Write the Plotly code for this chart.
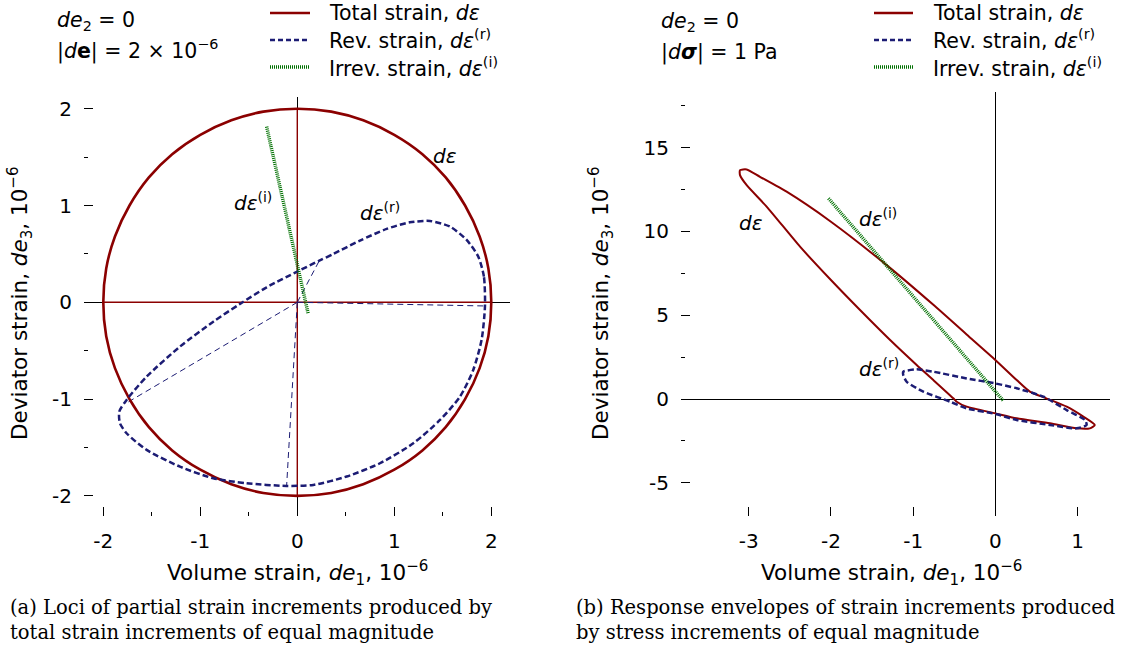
import plotly.graph_objects as go

W, H = 1125, 651

# ---------------- panel (a): loci for equal total-strain increments ----------------
total_a_x = [2.00, 1.97, 1.88, 1.73, 1.53, 1.29, 1.00, 0.68, 0.35, 0.00, -0.35, -0.68,
             -1.00, -1.29, -1.53, -1.73, -1.88, -1.97, -2.00, -1.97, -1.88, -1.73, -1.53,
             -1.29, -1.00, -0.68, -0.35, 0.00, 0.35, 0.68, 1.00, 1.29, 1.53, 1.73, 1.88,
             1.97, 2.00]
total_a_y = [0.00, 0.35, 0.68, 1.00, 1.29, 1.53, 1.73, 1.88, 1.97, 2.00, 1.97, 1.88,
             1.73, 1.53, 1.29, 1.00, 0.68, 0.35, 0.00, -0.35, -0.68, -1.00, -1.29,
             -1.53, -1.73, -1.88, -1.97, -2.00, -1.97, -1.88, -1.73, -1.53, -1.29, -1.00,
             -0.68, -0.35, 0.00]

# total-strain increments along the coordinate directions
total_axes_a_x = [-2.0, 2.0, None, 0.0, 0.0]
total_axes_a_y = [0.0, 0.0, None, -2.0, 2.0]

rev_a_x = [1.935, 1.924, 1.866, 1.746, 1.574, 1.368, 1.160, 0.921, 0.646, 0.371, 0.227,
           0.000, -0.316, -0.591, -0.866, -1.210, -1.553, -1.760, -1.835, -1.828, -1.760,
           -1.553, -1.210, -0.866, -0.522, -0.110, 0.165, 0.509, 0.852, 1.196, 1.471,
           1.677, 1.814, 1.900, 1.935]
rev_a_y = [-0.038, 0.265, 0.472, 0.644, 0.782, 0.840, 0.826, 0.758, 0.637, 0.499, 0.430,
           0.317, 0.155, -0.017, -0.200, -0.458, -0.768, -1.009, -1.129, -1.250, -1.353,
           -1.525, -1.698, -1.818, -1.870, -1.897, -1.887, -1.800, -1.663, -1.457, -1.216,
           -0.975, -0.699, -0.389, -0.038]

# reversible parts of the four axis-aligned total increments
rev_rays_a_x = [0.0, 1.935, None, 0.0, -0.110, None, 0.0, -1.760, None, 0.0, 0.227]
rev_rays_a_y = [0.0, -0.038, None, 0.0, -1.897, None, 0.0, -1.040, None, 0.0, 0.430]

irr_a_x = [-0.316, 0.113]
irr_a_y = [1.814, -0.121]

ticks_a = [-2, -1, 0, 1, 2]
ticks_a_text = ["-2", "-1", "0", "1", "2"]

# ---------------- panel (b): response envelopes for equal stress increments ----------------
total_b_x = [-3.106, -3.025, -2.863, -2.539, -2.000, -1.322, -0.754, -0.349, 0.000,
             0.260, 0.420, 0.620, 0.868, 1.070, 1.210, 1.150, 0.990, 0.665, 0.260, 0.000,
             -0.349, -0.470, -0.511, -0.754, -0.957, -1.280, -1.646, -2.000, -2.376,
             -2.780, -3.025, -3.106, -3.106]
total_b_y = [13.66, 13.70, 13.26, 12.37, 10.58, 7.99, 5.62, 3.85, 2.33,
             1.13, 0.44, 0.04, -0.46, -1.05, -1.55, -1.75, -1.75, -1.45, -1.15, -0.855,
             -0.457, -0.16, 0.04, 1.13, 2.03, 3.52, 5.31, 7.10, 9.09,
             11.47, 12.76, 13.36, 13.66]

rev_b_x = [-1.120, -0.957, -0.754, -0.349, 0.000, 0.260, 0.584, 0.868, 1.090, 1.110, 0.990,
           0.665, 0.260, 0.000, -0.349, -0.550, -0.876, -1.079, -1.120, -1.120]
rev_b_y = [1.63, 1.77, 1.63, 1.23, 0.93, 0.64, 0.14, -0.66, -1.25, -1.55, -1.75,
           -1.55, -1.25, -0.89, -0.56, -0.16, 0.44, 1.03, 1.43, 1.63]

irr_b_x = [-2.03, 0.097]
irr_b_y = [11.97, -0.10]

ticks_bx = [-3, -2, -1, 0, 1]
ticks_bx_text = ["-3", "-2", "-1", "0", "1"]
ticks_by = [-5, 0, 5, 10, 15]
ticks_by_text = ["-5", "0", "5", "10", "15"]

RED = "#8b0000"
BLUE = "#1c1c74"
GREEN = "#007000"
FONT = "DejaVu Sans"
SERIF = "DejaVu Serif"


def px(x):
    return x / W


def py(y):
    return 1 - y / H


fig = go.Figure()

# panel (a)
fig.add_trace(go.Scatter(x=total_axes_a_x, y=total_axes_a_y, mode="lines",
                         line=dict(color=RED, width=1.4), xaxis="x", yaxis="y",
                         showlegend=False, hoverinfo="skip"))
fig.add_trace(go.Scatter(x=rev_rays_a_x, y=rev_rays_a_y, mode="lines",
                         line=dict(color=BLUE, width=1, dash="6px,4px"), xaxis="x", yaxis="y",
                         showlegend=False, hoverinfo="skip"))
fig.add_trace(go.Scatter(x=total_a_x, y=total_a_y, mode="lines", name="Total strain",
                         line=dict(color=RED, width=2.6, shape="spline", smoothing=1.0),
                         xaxis="x", yaxis="y", showlegend=False))
fig.add_trace(go.Scatter(x=rev_a_x, y=rev_a_y, mode="lines", name="Rev. strain",
                         line=dict(color=BLUE, width=2.5, dash="6px,3px", shape="spline",
                                   smoothing=0.7),
                         xaxis="x", yaxis="y", showlegend=False))
fig.add_trace(go.Scatter(x=irr_a_x, y=irr_a_y, mode="lines", name="Irrev. strain",
                         line=dict(color=GREEN, width=3.5, dash="1px,1px"),
                         xaxis="x", yaxis="y", showlegend=False))

# panel (b)
fig.add_trace(go.Scatter(x=total_b_x, y=total_b_y, mode="lines", name="Total strain",
                         line=dict(color=RED, width=2, shape="spline", smoothing=0.6),
                         xaxis="x2", yaxis="y2", showlegend=False))
fig.add_trace(go.Scatter(x=rev_b_x, y=rev_b_y, mode="lines", name="Rev. strain",
                         line=dict(color=BLUE, width=2.5, dash="6px,3px", shape="spline",
                                   smoothing=0.6),
                         xaxis="x2", yaxis="y2", showlegend=False))
fig.add_trace(go.Scatter(x=irr_b_x, y=irr_b_y, mode="lines", name="Irrev. strain",
                         line=dict(color=GREEN, width=3.5, dash="1px,1px"),
                         xaxis="x2", yaxis="y2", showlegend=False))

TICKFONT = dict(family=FONT, size=20, color="black")


def axis(domain, rng, vals, text, minor=None, standoff=11):
    d = dict(domain=domain, range=rng, tickmode="array", tickvals=vals, ticktext=text,
             ticks="inside", ticklen=9, tickwidth=1, tickcolor="black",
             showline=False, showgrid=False, zeroline=True, zerolinecolor="black",
             zerolinewidth=1, tickfont=TICKFONT, ticklabelstandoff=standoff,
             fixedrange=True)
    if minor is not None:
        d["minor"] = dict(dtick=minor, tick0=0, ticks="inside", ticklen=4,
                          tickcolor="black", tickwidth=1, showgrid=False)
    return d


fig.update_layout(
    width=W, height=H,
    margin=dict(l=0, r=0, t=0, b=0),
    paper_bgcolor="white", plot_bgcolor="white",
    xaxis=axis([px(84), px(510)], [-2.199, 2.193], ticks_a, ticks_a_text, 0.5),
    yaxis=axis([py(516), py(97)], [-2.208, 2.121], ticks_a, ticks_a_text, 0.5),
    xaxis2=axis([px(681), px(1110)], [-3.824, 1.395], ticks_bx, ticks_bx_text, None),
    yaxis2=axis([py(516), py(92)], [-6.98, 18.32], ticks_by, ticks_by_text, 2.5),
)
fig.layout.xaxis2.anchor = "y2"
fig.layout.yaxis2.anchor = "x2"

ann = []


def text(x, y, s, xanchor="left", xref="paper", yref="paper", size=20.5, angle=0,
         family=FONT):
    ann.append(dict(x=x, y=y, xref=xref, yref=yref, text=s, showarrow=False,
                    xanchor=xanchor, yanchor="middle", textangle=angle,
                    font=dict(family=family, size=size, color="black")))


# axis titles
xt = "Volume strain, <i>de</i><sub>1</sub>, 10<sup>−6</sup>"
yt = "Deviator strain, <i>de</i><sub>3</sub>, 10<sup>−6</sup>"
text(px(297), py(573), xt, xanchor="center", size=21.5)
text(px(891), py(573), xt, xanchor="center", size=21.5)
text(px(20), py(303), yt, xanchor="center", angle=-90, size=21.5)
text(px(601), py(303), yt, xanchor="center", angle=-90, size=21.5)

# state annotations
text(px(55), py(21), "<i>de</i><sub>2</sub> = 0")
text(px(55), py(50), "|<i>d</i><b>e</b>| = 2 × 10<sup>−6</sup>")
text(px(659), py(22), "<i>de</i><sub>2</sub> = 0")
text(px(659), py(52), "|<i>d</i><b><i>σ</i></b>| = 1 Pa")

# curve labels
text(1.52, 1.51, "<i>dε</i>", xanchor="center", xref="x", yref="y", size=20)
text(0.627, 0.93, "<i>dε</i><sup>(r)</sup>", xref="x", yref="y", size=20)
text(-0.676, 1.04, "<i>dε</i><sup>(i)</sup>", xref="x", yref="y", size=20)
text(-3.146, 10.53, "<i>dε</i>", xref="x2", yref="y2", size=20)
text(-1.686, 10.8, "<i>dε</i><sup>(i)</sup>", xref="x2", yref="y2", size=20)
text(-1.686, 1.85, "<i>dε</i><sup>(r)</sup>", xref="x2", yref="y2", size=20)

# legends
legend_labels = ["Total strain, <i>dε</i>", "Rev. strain, <i>dε</i><sup>(r)</sup>",
                 "Irrev. strain, <i>dε</i><sup>(i)</sup>"]
legend_styles = [dict(color=RED, width=2.6), dict(color=BLUE, width=2.5, dash="5px,3px"),
                 dict(color=GREEN, width=3.5, dash="1px,1px")]
legend_rows = [13, 40, 67]
shapes = []
for x0, x1, xtxt in [(270, 310, 327), (874, 913, 931)]:
    for lab, sty, row in zip(legend_labels, legend_styles, legend_rows):
        shapes.append(dict(type="line", xref="paper", yref="paper", x0=px(x0), x1=px(x1),
                           y0=py(row), y1=py(row), line=sty))
        text(px(xtxt), py(row), lab)

# captions
CAP = 19.5
text(px(8), py(607), "(a) Loci of partial strain increments produced by", family=SERIF,
     size=CAP)
text(px(8), py(632), "total strain increments of equal magnitude", family=SERIF, size=CAP)
text(px(574), py(607), "(b) Response envelopes of strain increments produced",
     family=SERIF, size=CAP)
text(px(574), py(632), "by stress increments of equal magnitude", family=SERIF, size=CAP)

fig.update_layout(annotations=ann, shapes=shapes)
fig.write_html("out.html")
